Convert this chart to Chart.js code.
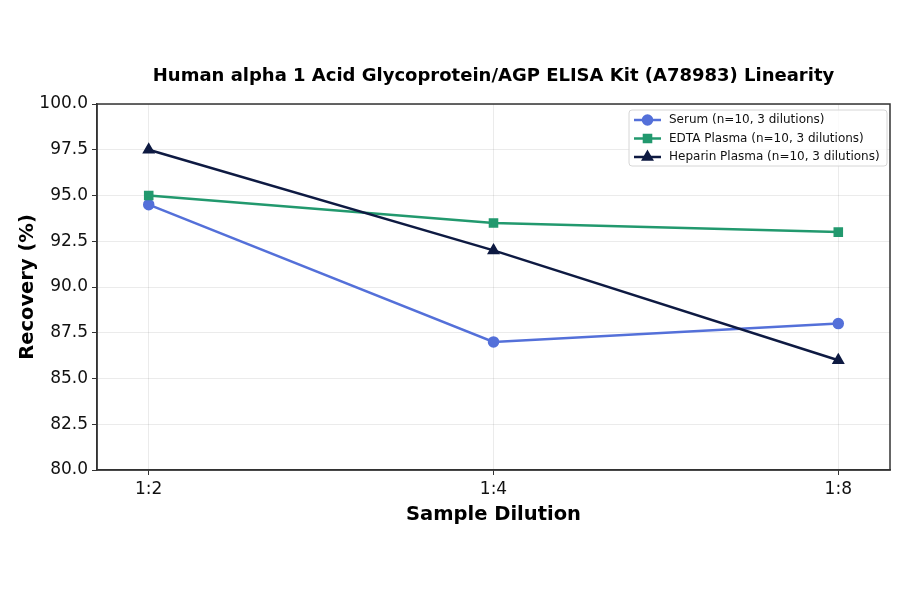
<!DOCTYPE html>
<html>
<head>
<meta charset="utf-8">
<script src="https://cdn.jsdelivr.net/npm/chart.js@4"></script>
<style>
  html, body { margin: 0; padding: 0; background: #fff; }
</style>
</head>
<body>
<canvas id="chart" width="900" height="594"></canvas>
<script>
const chartTitle = "Human alpha 1 Acid Glycoprotein/AGP ELISA Kit (A78983) Linearity";
const dilutions = ["1:2", "1:4", "1:8"];
const serum = [94.5, 87.0, 88.0];
const edtaPlasma = [95.0, 93.5, 93.0];
const heparinPlasma = [97.5, 92.0, 86.0];
const yTicks = [80, 82.5, 85, 87.5, 90, 92.5, 95, 97.5, 100];

function points(values) {
    return values.map((v, i) => ({ x: i, y: v }));
}

// title centred over the plot, box round the plot and the legend inside it
const framePlugin = {
    id: "frame",
    afterDraw(chart) {
        const ctx = chart.ctx;
        const a = chart.chartArea;
        ctx.save();
        ctx.fillStyle = "#000";
        ctx.font = "bold 18px 'DejaVu Sans'";
        ctx.textAlign = "center";
        ctx.textBaseline = "middle";
        ctx.fillText(chartTitle, (a.left + a.right) / 2, 76);

        ctx.strokeStyle = "#333";
        ctx.lineWidth = 1.5;
        ctx.strokeRect(a.left, a.top, a.right - a.left, a.bottom - a.top);

        const lx = a.right - 261, ly = a.top + 6, lw = 258, lh = 56;
        ctx.fillStyle = "rgba(255,255,255,0.8)";
        ctx.strokeStyle = "#d6d6d6";
        ctx.lineWidth = 1;
        ctx.beginPath();
        ctx.roundRect(lx, ly, lw, lh, 3);
        ctx.fill();
        ctx.stroke();

        ctx.textAlign = "left";
        chart.data.datasets.forEach((ds, i) => {
            const y = ly + 10 + i * 18.5;
            ctx.strokeStyle = ds.borderColor;
            ctx.lineWidth = 2.5;
            ctx.beginPath();
            ctx.moveTo(lx + 5, y);
            ctx.lineTo(lx + 32, y);
            ctx.stroke();
            Chart.helpers.drawPoint(ctx, {
                pointStyle: ds.pointStyle,
                radius: ds.pointRadius,
                rotation: 0,
                borderWidth: 1
            }, lx + 18.5, y);
            ctx.fillStyle = ds.borderColor;
            ctx.fill();
            ctx.fillStyle = "#111";
            ctx.font = "12px 'DejaVu Sans'";
            ctx.fillText(ds.label, lx + 40, y);
        });
        ctx.restore();
    }
};

const ctx = document.getElementById("chart");

new Chart(ctx, {
    type: "line",
    data: {
        datasets: [
            {
                label: "Serum (n=10, 3 dilutions)",
                data: points(serum),
                borderColor: "#5470d9",
                backgroundColor: "#5470d9",
                pointStyle: "circle",
                pointRadius: 4.5,
                borderWidth: 2.5,
                order: 3
            },
            {
                label: "EDTA Plasma (n=10, 3 dilutions)",
                data: points(edtaPlasma),
                borderColor: "#22996e",
                backgroundColor: "#22996e",
                pointStyle: "rect",
                pointRadius: 5,
                borderWidth: 2.5,
                order: 2
            },
            {
                label: "Heparin Plasma (n=10, 3 dilutions)",
                data: points(heparinPlasma),
                borderColor: "#0e1a42",
                backgroundColor: "#0e1a42",
                pointStyle: "triangle",
                pointRadius: 5,
                borderWidth: 2.5,
                order: 1
            }
        ]
    },
    options: {
        responsive: false,
        animation: false,
        layout: { padding: { top: 104, left: 12, right: 10, bottom: 63 } },
        plugins: {
            legend: { display: false },
            tooltip: { enabled: false },
            title: { display: false }
        },
        scales: {
            x: {
                type: "linear",
                min: -0.15,
                max: 2.15,
                afterBuildTicks(scale) {
                    scale.ticks = dilutions.map((d, i) => ({ value: i }));
                },
                afterFit(scale) { scale.height = 61; },
                ticks: {
                    color: "#111",
                    padding: 4,
                    font: { family: "DejaVu Sans", size: 17 },
                    callback: (v) => dilutions[v]
                },
                grid: { color: "rgba(0,0,0,0.08)", tickColor: "#333", tickLength: 5 },
                border: { color: "#333", width: 1.5 },
                title: {
                    display: true,
                    text: "Sample Dilution",
                    color: "#000",
                    font: { family: "DejaVu Sans", size: 19.5, weight: "bold" }
                }
            },
            y: {
                min: 80,
                max: 100,
                afterBuildTicks(scale) {
                    scale.ticks = yTicks.map(v => ({ value: v }));
                },
                afterFit(scale) { scale.width = 85; },
                ticks: {
                    color: "#111",
                    padding: 4,
                    font: { family: "DejaVu Sans", size: 17 },
                    callback: (v) => v.toFixed(1)
                },
                grid: { color: "rgba(0,0,0,0.08)", tickColor: "#333", tickLength: 5 },
                border: { color: "#333", width: 1.5 },
                title: {
                    display: true,
                    text: "Recovery (%)",
                    color: "#000",
                    font: { family: "DejaVu Sans", size: 19.5, weight: "bold" }
                }
            }
        }
    },
    plugins: [framePlugin]
});
</script>
</body>
</html>
